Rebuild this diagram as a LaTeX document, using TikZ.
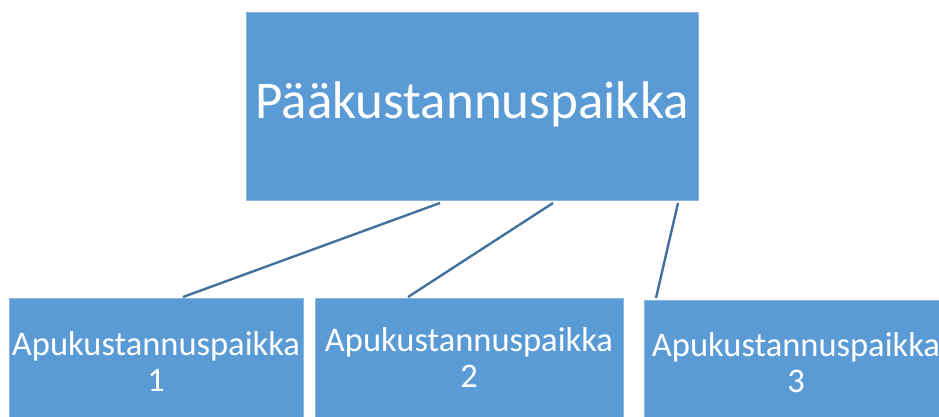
\documentclass[tikz,border=0pt]{standalone}
\usepackage{fontspec}
\setmainfont{Carlito}
\definecolor{boxfill}{HTML}{5B9BD5}
\definecolor{boxedge}{HTML}{8AB6E0}
\definecolor{linecol}{HTML}{41719C}
\begin{document}
\begin{tikzpicture}[x=1pt,y=-1pt,
  box/.style={fill=boxfill,draw=boxedge,line width=0.8pt},
  conn/.style={draw=linecol,line width=2.4pt},
  lbl/.style={text=white,align=center,inner sep=0pt}]
\useasboundingbox (0,0) rectangle (939,417);
\path[box] (246,12) rectangle (698,200);
\node[lbl,font=\fontsize{53}{62}\selectfont] (top) at (472,104) {Pääkustannuspaikka};
\path[box] (9,298) rectangle (303,430);
\path[box] (315,298) rectangle (623,430);
\path[box] (644,300) rectangle (950,430);
\node[lbl,font=\fontsize{34.5}{36}\selectfont] (a1) at (156,362) {Apukustannuspaikka\\1};
\node[lbl,font=\fontsize{34.5}{36}\selectfont] (a2) at (469,358) {Apukustannuspaikka\\2};
\node[lbl,font=\fontsize{34.5}{36}\selectfont] (a3) at (796,363) {Apukustannuspaikka\\3};
\coordinate (s1) at (440,203); \coordinate (e1) at (183,297);
\coordinate (s2) at (553,203); \coordinate (e2) at (408,297);
\coordinate (s3) at (678,203); \coordinate (e3) at (656,298);
\draw[conn] (s1) -- (e1);
\draw[conn] (s2) -- (e2);
\draw[conn] (s3) -- (e3);
\end{tikzpicture}
\end{document}
